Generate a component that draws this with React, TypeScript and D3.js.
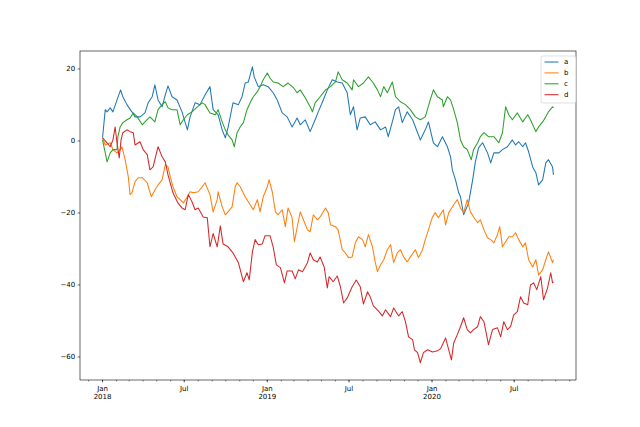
import React from "react";
import * as d3 from "d3";

// ---- data: [day offset from 2018-01-01, value] ----
const seriesNames = ["a", "b", "c", "d"];
const seriesColors = ["#1f77b4", "#ff7f0e", "#2ca02c", "#d62728"];

const seriesA: [number, number][] = [
  [0, 0.9], [6, 8.7], [10, 8.1], [17, 9.2], [23, 8.1], [32, 11.4], [40, 14.2], [45, 12.3], [54, 10.1], [65, 8.1],
  [72, 6.7], [83, 6.7], [94, 7.8], [101, 10.6], [110, 12.3], [116, 15.6], [123, 11.4], [132, 9.5], [139, 12.8], [145, 15.3],
  [154, 12.3], [165, 11.4], [176, 8.1], [188, 3.1], [194, 6.7], [205, 10.6], [216, 10.1], [227, 12.8], [238, 15.1], [245, 8.7],
  [256, 7.3], [265, 3.1], [272, 0.9], [278, 3.7], [289, 10.6], [301, 10.1], [309, 12.3], [316, 16.1], [323, 16.4], [332, 20.6],
  [336, 17.8], [345, 15.1], [356, 15.6], [367, 15.1], [378, 13.4], [387, 11.4], [398, 7.8], [409, 6.7], [420, 3.9], [431, 6.4],
  [438, 4.5], [449, 5.9], [460, 2.6], [471, 5.9], [478, 8.1], [489, 11.4], [498, 14.2], [509, 17.0], [520, 16.4], [531, 16.1],
  [542, 13.4], [549, 7.3], [556, 9.5], [564, 3.1], [571, 6.4], [582, 6.7], [593, 4.5], [604, 5.3], [616, 3.1], [627, 3.9],
  [633, 1.2], [642, 5.3], [649, 8.7], [656, 9.5], [664, 5.1], [675, 8.1], [687, 5.9], [698, 2.3], [704, 0.3], [715, 3.1],
  [722, 5.3], [733, -0.5], [742, -1.6], [753, 1.2], [764, -1.6], [771, -4.4], [775, -8.0], [782, -10.8], [789, -14.4], [793, -15.5],
  [800, -20.5], [811, -17.2], [820, -10.8], [826, -5.8], [833, -1.9], [842, -0.5], [853, -3.3], [860, -6.1], [867, -3.3], [878, -3.3],
  [886, -2.4], [897, -1.6], [908, 0.3], [915, -1.1], [922, -0.2], [931, -1.6], [937, -0.5], [944, -3.0], [953, -7.2], [960, -8.8],
  [966, -12.2], [975, -10.8], [982, -6.1], [988, -5.2], [997, -7.2], [999, -9.4],
];

const seriesB: [number, number][] = [
  [0, 0.9], [6, -1.1], [17, -0.5], [23, -2.4], [32, -3.3], [39, -2.4], [43, -1.6], [50, -5.2], [57, -9.9], [61, -14.9],
  [65, -14.4], [72, -11.3], [79, -10.2], [88, -10.2], [99, -11.6], [108, -15.5], [116, -13.6], [123, -12.2], [132, -10.8], [139, -6.6],
  [145, -7.2], [150, -9.9], [156, -12.7], [165, -15.5], [172, -16.3], [179, -17.2], [188, -15.5], [194, -14.1], [201, -14.4], [212, -14.1],
  [221, -12.7], [227, -11.6], [238, -14.9], [245, -19.7], [254, -16.3], [256, -14.1], [265, -18.3], [272, -20.5], [278, -19.7], [287, -18.3],
  [294, -12.7], [298, -11.6], [305, -12.7], [316, -15.5], [327, -17.7], [334, -19.1], [343, -16.3], [349, -19.7], [356, -15.5], [365, -12.7],
  [369, -10.8], [376, -14.1], [383, -19.7], [389, -20.5], [398, -19.1], [405, -23.8], [411, -18.6], [420, -21.3], [425, -28.0], [431, -24.1],
  [438, -19.7], [445, -21.9], [454, -24.7], [460, -25.2], [467, -20.5], [476, -21.9], [482, -21.1], [494, -18.6], [500, -19.9], [505, -23.3],
  [516, -23.8], [522, -24.7], [531, -30.2], [538, -31.1], [545, -32.4], [553, -32.2], [560, -28.3], [567, -26.6], [576, -27.4], [582, -29.4],
  [589, -26.0], [598, -29.4], [604, -33.6], [609, -36.3], [616, -34.4], [623, -33.0], [631, -30.2], [638, -28.8], [645, -33.8], [653, -31.1],
  [660, -30.2], [667, -32.2], [675, -33.6], [682, -32.2], [693, -30.2], [700, -32.4], [709, -30.2], [715, -27.4], [722, -24.7], [731, -21.1],
  [737, -19.9], [744, -21.3], [755, -19.1], [760, -23.3], [767, -19.9], [778, -17.7], [786, -16.3], [793, -18.6], [800, -19.9], [808, -16.3],
  [815, -19.7], [822, -21.1], [831, -22.7], [837, -21.9], [845, -24.7], [853, -26.9], [860, -27.4], [867, -28.3], [875, -26.0], [880, -23.8],
  [886, -29.4], [893, -28.0], [900, -26.6], [908, -26.6], [915, -25.5], [922, -27.4], [931, -29.4], [937, -28.3], [944, -33.0], [953, -35.0],
  [960, -33.0], [966, -37.2], [975, -35.8], [982, -33.0], [988, -30.8], [997, -33.8], [999, -33.0],
];

const seriesC: [number, number][] = [
  [0, 0.3], [6, -3.3], [10, -5.8], [17, -3.3], [23, -2.4], [32, -2.4], [34, 1.2], [39, 3.9], [45, 5.1], [54, 5.9],
  [61, 6.4], [68, 7.8], [77, 6.7], [88, 4.5], [94, 5.3], [105, 6.7], [116, 5.3], [123, 8.7], [132, 10.1], [139, 10.9],
  [145, 9.2], [154, 8.7], [165, 8.7], [172, 4.5], [179, 5.9], [188, 7.3], [198, 8.1], [210, 9.5], [221, 10.6], [227, 10.1],
  [238, 7.8], [250, 7.3], [256, 8.7], [265, 5.3], [272, 3.1], [278, 1.7], [287, 0.3], [292, -1.6], [298, 2.3], [305, 3.9],
  [312, 5.1], [320, 8.7], [327, 10.6], [334, 12.3], [343, 13.7], [349, 15.1], [356, 17.0], [365, 18.9], [371, 17.5], [378, 16.4],
  [389, 16.1], [400, 15.1], [411, 16.1], [423, 14.8], [431, 13.4], [438, 14.2], [449, 12.0], [460, 9.5], [465, 8.1], [471, 10.6],
  [482, 12.3], [494, 14.2], [505, 15.1], [516, 16.4], [522, 19.2], [531, 17.0], [542, 16.1], [553, 14.2], [556, 17.0], [567, 15.1],
  [578, 16.1], [589, 17.8], [600, 16.1], [609, 14.2], [616, 12.3], [623, 15.1], [631, 13.4], [642, 16.4], [649, 12.3], [660, 10.9],
  [671, 10.1], [682, 8.7], [693, 6.7], [704, 5.9], [715, 6.7], [726, 11.4], [733, 14.2], [742, 12.3], [753, 11.4], [755, 9.5],
  [764, 12.3], [771, 11.4], [778, 8.7], [786, 5.1], [793, 0.3], [800, -1.6], [808, -2.4], [817, -5.2], [822, -2.4], [831, -0.5],
  [837, 1.2], [845, 2.3], [855, 1.2], [867, 1.2], [878, -0.5], [886, 2.3], [893, 9.5], [900, 7.3], [908, 5.9], [919, 7.8],
  [931, 5.3], [942, 7.3], [948, 5.9], [960, 2.6], [966, 3.9], [975, 5.3], [982, 6.7], [988, 8.1], [997, 9.5], [999, 9.2],
];

const seriesD: [number, number][] = [
  [0, 0.9], [10, -0.5], [17, -1.6], [23, 0.3], [28, 3.9], [32, -0.5], [37, -4.7], [41, 0.3], [45, 2.3], [54, 3.1],
  [61, 2.6], [68, 2.3], [72, -1.1], [83, -0.2], [90, -2.4], [99, -3.8], [105, -8.0], [112, -7.2], [123, -1.6], [132, -4.4],
  [139, -5.8], [145, -9.4], [156, -14.4], [167, -17.2], [176, -18.6], [183, -19.1], [190, -14.9], [198, -16.8], [205, -19.1], [212, -18.6],
  [223, -21.1], [232, -21.3], [238, -29.4], [245, -25.7], [254, -29.4], [261, -23.6], [267, -28.6], [278, -29.4], [289, -31.1], [301, -33.8],
  [312, -39.1], [320, -36.6], [325, -38.6], [332, -30.8], [338, -27.4], [345, -28.8], [354, -28.6], [360, -26.3], [371, -26.3], [378, -29.4],
  [385, -34.4], [394, -35.2], [403, -39.4], [409, -36.1], [420, -36.1], [427, -38.3], [434, -35.8], [443, -36.3], [454, -33.8], [460, -31.1],
  [467, -33.0], [476, -33.6], [482, -32.2], [491, -35.0], [498, -40.8], [502, -37.7], [511, -39.1], [520, -37.5], [527, -40.5], [534, -45.0],
  [542, -43.6], [553, -40.5], [562, -38.6], [571, -40.5], [578, -45.3], [587, -41.9], [593, -43.3], [600, -45.8], [611, -47.2], [620, -48.6],
  [627, -46.9], [638, -48.8], [645, -46.4], [656, -48.6], [664, -47.4], [671, -50.2], [678, -54.4], [687, -55.2], [691, -58.0], [698, -58.8],
  [704, -61.6], [711, -58.8], [720, -58.0], [731, -58.6], [742, -58.3], [749, -57.7], [760, -54.7], [767, -58.0], [773, -60.8], [778, -56.1],
  [786, -53.8], [793, -51.6], [800, -49.1], [808, -52.4], [815, -53.3], [822, -52.4], [831, -51.6], [837, -48.8], [845, -50.2], [855, -56.6],
  [864, -52.4], [875, -51.9], [882, -54.4], [889, -50.2], [897, -52.4], [904, -51.6], [911, -48.3], [919, -47.4], [926, -43.3], [933, -45.0],
  [942, -45.5], [948, -40.0], [955, -39.4], [962, -41.3], [971, -37.7], [977, -44.1], [986, -40.8], [993, -36.6], [997, -39.4], [999, -39.1],
];

const allSeries = [seriesA, seriesB, seriesC, seriesD];

const yTicks = [-60, -40, -20, 0, 20];
const majorTickDates = ["2018-01-01", "2018-07-01", "2019-01-01", "2019-07-01", "2020-01-01", "2020-07-01"];
const majorTickLabels = [["Jan", "2018"], ["Jul"], ["Jan", "2019"], ["Jul"], ["Jan", "2020"], ["Jul"]];

// ---- layout ----
const W = 640;
const H = 427;
const M = { left: 80, right: 576, top: 51, bottom: 380 };
const FONT = "DejaVu Sans, sans-serif";
const FS = 7;
const DAY = 864e5;
const START = Date.UTC(2018, 0, 1);
const N_DAYS = 1000;

export default function App() {
  const pad = (N_DAYS - 1) * 0.05;
  const x = d3
    .scaleUtc()
    .domain([new Date(START - pad * DAY), new Date(START + (N_DAYS - 1 + pad) * DAY)])
    .range([M.left, M.right]);
  const y = d3.scaleLinear().domain([-66.4, 25.0]).range([M.bottom, M.top]);

  const line = d3
    .line<[number, number]>()
    .x((d) => x(new Date(START + d[0] * DAY)))
    .y((d) => y(d[1]));

  const minorTicks = d3.utcMonth.range(x.domain()[0], x.domain()[1]);
  const fmt = (v: number) => (v < 0 ? "\u2212" + Math.abs(v) : String(v));

  const legX = 541;
  const legY = 56;
  const legW = 35;
  const legH = 47;
  const rowH = 10.9;

  return (
    <svg
      width={W}
      height={H}
      viewBox={`0 0 ${W} ${H}`}
      style={{ position: "absolute", left: 0, top: 0, background: "#fff" }}
      fontFamily={FONT}
    >
      <rect x={0} y={0} width={W} height={H} fill="#fff" />
      <defs>
        <clipPath id="plot">
          <rect x={M.left} y={M.top} width={M.right - M.left} height={M.bottom - M.top} />
        </clipPath>
      </defs>
      <g clipPath="url(#plot)">
        {allSeries.map((s, i) => (
          <path
            key={seriesNames[i]}
            d={line(s) || ""}
            fill="none"
            stroke={seriesColors[i]}
            strokeWidth={1.05}
            strokeLinejoin="round"
          />
        ))}
      </g>
      {/* spines */}
      <rect
        x={M.left}
        y={M.top}
        width={M.right - M.left}
        height={M.bottom - M.top}
        fill="none"
        stroke="#000"
        strokeWidth={0.6}
      />
      {/* y ticks */}
      {yTicks.map((t) => (
        <g key={t}>
          <line x1={M.left - 2.4} x2={M.left} y1={y(t)} y2={y(t)} stroke="#000" strokeWidth={0.6} />
          <text x={M.left - 4.8} y={y(t)} dy="0.35em" fontSize={FS} textAnchor="end" fill="#000">
            {fmt(t)}
          </text>
        </g>
      ))}
      {/* x minor ticks */}
      {minorTicks.map((d) => (
        <line
          key={d.toISOString()}
          x1={x(d)}
          x2={x(d)}
          y1={M.bottom}
          y2={M.bottom + 1.4}
          stroke="#000"
          strokeWidth={0.5}
        />
      ))}
      {/* x major ticks */}
      {majorTickDates.map((ds, i) => {
        const d = new Date(ds + "T00:00:00Z");
        const px = x(d);
        return (
          <g key={ds}>
            <line x1={px} x2={px} y1={M.bottom} y2={M.bottom + 2.4} stroke="#000" strokeWidth={0.6} />
            {majorTickLabels[i].map((l, j) => (
              <text
                key={j}
                x={px}
                y={M.bottom + 11 + j * 8.2}
                fontSize={FS}
                textAnchor="middle"
                fill="#000"
              >
                {l}
              </text>
            ))}
          </g>
        );
      })}
      {/* legend */}
      <rect
        x={legX}
        y={legY}
        width={legW}
        height={legH}
        rx={2}
        fill="#fff"
        fillOpacity={0.8}
        stroke="#cccccc"
        strokeWidth={0.6}
      />
      {seriesNames.map((n, i) => {
        const cy = legY + 6 + i * rowH;
        return (
          <g key={n}>
            <line x1={legX + 3.5} x2={legX + 17.5} y1={cy} y2={cy} stroke={seriesColors[i]} strokeWidth={1.05} />
            <text x={legX + 23} y={cy} dy="0.35em" fontSize={FS} fill="#000">
              {n}
            </text>
          </g>
        );
      })}
    </svg>
  );
}
